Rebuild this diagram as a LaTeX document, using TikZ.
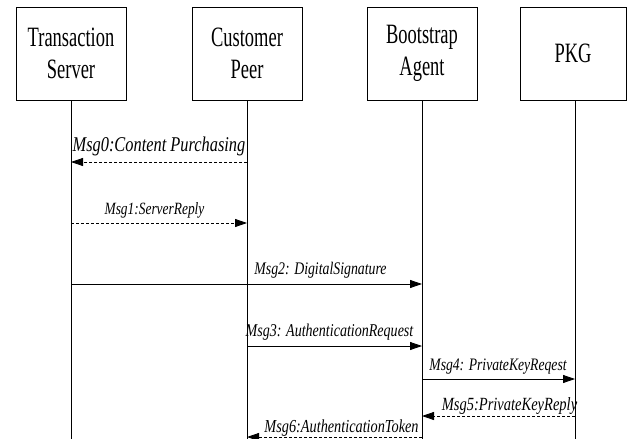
\documentclass[tikz,border=0pt]{standalone}
\usepackage{fontspec}
\setmainfont{Liberation Serif}
\newfontfamily\boxfont[FakeStretch=0.66]{Liberation Serif}
\newfontfamily\msgfont[FakeStretch=0.78]{Liberation Serif}
\usetikzlibrary{arrows.meta}
\begin{document}
\begin{tikzpicture}[x=1pt,y=-1pt,
  actor/.style={draw,line width=0.8pt,minimum height=93pt,align=center,inner sep=0pt,
     font=\boxfont\fontsize{28}{32}\selectfont},
  life/.style={line width=0.8pt},
  msg/.style={line width=0.8pt,-{Triangle[length=12pt,width=8pt]}},
  reply/.style={msg,dash pattern=on 3pt off 2pt},
  lbl/.style={anchor=base,inner sep=0pt,font=\msgfont\itshape\fontsize{18}{22}\selectfont}]
\useasboundingbox (0,0) rectangle (627,439);
\fill[white] (0,0) rectangle (627,439);
% actors
\node[actor,minimum width=110pt] (ts) at (71,53.5) {\raisebox{-2pt}{}Transaction\\Server};
\node[actor,minimum width=110pt] (cp) at (247,53.5) {Customer\\Peer};
\node[actor,minimum width=110pt] (ba) at (422,53.5) {Bootstrap\\Agent};
\node[actor,minimum width=106pt] (pkg) at (573,53.5) {PKG};
% lifeline ends
\coordinate (tsE) at (71,439);
\coordinate (cpE) at (247,439);
\coordinate (baE) at (422,439);
\coordinate (pkgE) at (575,439);
\coordinate (pkgS) at (575,100);
\draw[life] (ts.south) -- (tsE);
\draw[life] (cp.south) -- (cpE);
\draw[life] (ba.south) -- (baE);
\draw[life] (pkgS) -- (pkgE);
% message anchor points
\coordinate (ts0) at (71,162);  \coordinate (cp0) at (247,162);
\coordinate (ts1) at (71,223);  \coordinate (cp1) at (247,223);
\coordinate (ts2) at (71,284);  \coordinate (ba2) at (422,284);
\coordinate (cp3) at (247,346); \coordinate (ba3) at (422,346);
\coordinate (ba4) at (422,379); \coordinate (pkg4) at (575,379);
\coordinate (ba5) at (422,416); \coordinate (pkg5) at (575,416);
\coordinate (cp6) at (247,437); \coordinate (ba6) at (422,437);
% messages
\draw[reply] (cp0) -- (ts0);
\node[lbl,font=\msgfont\itshape\fontsize{21}{24}\selectfont] (l0) at (159,151) {Msg0:Content Purchasing};
\draw[reply] (ts1) -- (cp1);
\node[lbl,font=\msgfont\itshape\fontsize{17.2}{20}\selectfont] (l1) at (154.5,214) {Msg1:ServerReply};
\draw[msg] (ts2) -- (ba2);
\node[lbl,font=\msgfont\itshape\fontsize{17.7}{20}\selectfont] (l2) at (320.5,274) {Msg2: DigitalSignature};
\draw[msg] (cp3) -- (ba3);
\node[lbl,font=\msgfont\itshape\fontsize{18}{20}\selectfont] (l3) at (329.5,336) {Msg3: AuthenticationRequest};
\draw[msg] (ba4) -- (pkg4);
\node[lbl,font=\msgfont\itshape\fontsize{17.5}{20}\selectfont] (l4) at (498,370) {Msg4: PrivateKeyReqest};
\draw[reply] (pkg5) -- (ba5);
\node[lbl,font=\msgfont\itshape\fontsize{18.6}{20}\selectfont] (l5) at (509.5,410) {Msg5:PrivateKeyReply};
\draw[reply] (ba6) -- (cp6);
\node[lbl,font=\msgfont\itshape\fontsize{18.3}{20}\selectfont] (l6) at (341.5,432) {Msg6:AuthenticationToken};
\end{tikzpicture}
\end{document}
